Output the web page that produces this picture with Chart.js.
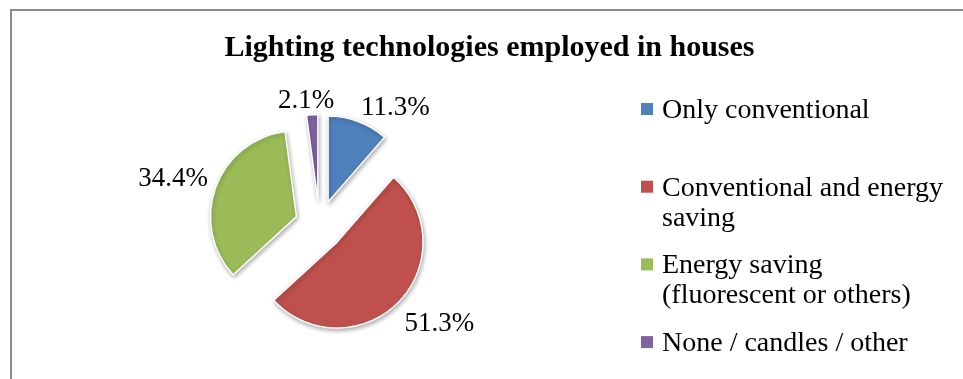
<!DOCTYPE html>
<html>
<head>
<meta charset="utf-8">
<title>Lighting technologies employed in houses</title>
<script src="https://cdn.jsdelivr.net/npm/chart.js@4.4.1/dist/chart.umd.min.js"></script>
<style>
  html, body { margin: 0; padding: 0; background: #fff; overflow: hidden; }
  canvas { display: block; }
</style>
</head>
<body>
<canvas id="chart" width="963" height="379"></canvas>
<script>
// Survey shares (percent of houses)
const chartTitle = 'Lighting technologies employed in houses';
const categories = [
  'Only conventional',
  'Conventional and energy saving',
  'Energy saving (fluorescent or others)',
  'None / candles / other'
];
const shares = [11.3, 51.3, 34.4, 2.1];
const sliceColors = ['#4F81BD', '#C0504D', '#9BBB59', '#8064A2'];

const SERIF = '"Liberation Serif", "Times New Roman", serif';

// Frame, title and the legend on the right
const framePlugin = {
  id: 'frame',
  beforeDraw(chart) {
    const ctx = chart.ctx;
    ctx.save();
    ctx.fillStyle = '#fff';
    ctx.fillRect(0, 0, chart.width, chart.height);
    ctx.fillStyle = '#8a8a8a';
    ctx.fillRect(10, 9, 2, chart.height - 9);
    ctx.fillRect(10, 9, chart.width - 10, 2);
    ctx.restore();
  },
  afterDraw(chart, args, opts) {
    const ctx = chart.ctx;
    ctx.save();
    ctx.fillStyle = '#000';
    ctx.textBaseline = 'alphabetic';

    ctx.font = 'bold 30px ' + SERIF;
    ctx.textAlign = 'center';
    ctx.fillText(opts.title, opts.titleX, opts.titleY);

    ctx.font = '28px ' + SERIF;
    ctx.textAlign = 'left';
    const labels = chart.data.labels;
    const colors = chart.data.datasets[0].backgroundColor;
    labels.forEach((label, i) => {
      const top = opts.legendTop + i * opts.legendStep;
      ctx.fillStyle = colors[i];
      ctx.fillRect(opts.legendX, top, 12, 12);
      ctx.fillStyle = '#000';
      const lines = wrap(ctx, label, opts.legendWidth);
      lines.forEach((line, j) => {
        ctx.fillText(line, opts.legendX + 21, top + 15 + j * 30);
      });
    });
    ctx.restore();
  }
};

function wrap(ctx, text, maxWidth) {
  const words = text.split(' ');
  const lines = [];
  let cur = '';
  words.forEach(w => {
    const test = cur ? cur + ' ' + w : w;
    if (cur && ctx.measureText(test).width > maxWidth) {
      lines.push(cur);
      cur = w;
    } else {
      cur = test;
    }
  });
  if (cur) lines.push(cur);
  return lines;
}

// Pulls every slice out from the centre along its bisector
const explodePlugin = {
  id: 'explode',
  beforeDatasetDraw(chart, args, opts) {
    const ctx = chart.ctx;
    const d = opts.distance;
    args.meta.data.forEach(arc => {
      const mid = (arc.startAngle + arc.endAngle) / 2;
      ctx.save();
      ctx.shadowColor = 'rgba(0,0,0,0.3)';
      ctx.shadowBlur = 4;
      ctx.shadowOffsetX = 1;
      ctx.shadowOffsetY = 2;
      ctx.translate(Math.cos(mid) * d, Math.sin(mid) * d);
      arc.draw(ctx);
      ctx.restore();
    });
    return false;
  }
};

// Percentage labels just outside each slice
const pctLabelPlugin = {
  id: 'pctLabels',
  afterDatasetsDraw(chart, args, opts) {
    const ctx = chart.ctx;
    const meta = chart.getDatasetMeta(0);
    const d = chart.options.plugins.explode.distance;
    const values = chart.data.datasets[0].data;
    const clamp = v => Math.max(-1, Math.min(1, v));
    ctx.save();
    ctx.font = opts.font;
    ctx.fillStyle = '#000';
    ctx.textAlign = 'center';
    ctx.textBaseline = 'middle';
    meta.data.forEach((arc, i) => {
      const { x, y, startAngle, endAngle, outerRadius } =
        arc.getProps(['x', 'y', 'startAngle', 'endAngle', 'outerRadius'], true);
      const mid = (startAngle + endAngle) / 2;
      const ux = Math.cos(mid), uy = Math.sin(mid);
      const txt = values[i].toFixed(1) + '%';
      const w = ctx.measureText(txt).width;
      const r = outerRadius + d + opts.gap;
      const tx = x + ux * r + clamp(ux * 3) * w / 2;
      const ty = y + uy * r + clamp(uy * 3) * opts.boxHeight / 2 + opts.shiftY;
      ctx.fillText(txt, tx, ty);
    });
    ctx.restore();
  }
};

new Chart(document.getElementById('chart'), {
  type: 'pie',
  data: {
    labels: categories,
    datasets: [{
      data: shares,
      backgroundColor: sliceColors,
      borderColor: '#ffffff',
      borderWidth: 1.5,
      radius: 86,
      clip: false
    }]
  },
  options: {
    responsive: false,
    animation: false,
    devicePixelRatio: 1,
    events: [],
    layout: { padding: { left: 200, right: 524, top: 100, bottom: 29 } },
    plugins: {
      legend: { display: false },
      title: { display: false },
      tooltip: { enabled: false },
      explode: { distance: 24.5 },
      pctLabels: { font: '27px ' + SERIF, gap: 8, boxHeight: 22, shiftY: 5 },
      frame: {
        title: chartTitle, titleX: 489.5, titleY: 56,
        legendX: 641, legendTop: 103, legendStep: 77.7, legendWidth: 295
      }
    }
  },
  plugins: [framePlugin, explodePlugin, pctLabelPlugin]
});
</script>
</body>
</html>
